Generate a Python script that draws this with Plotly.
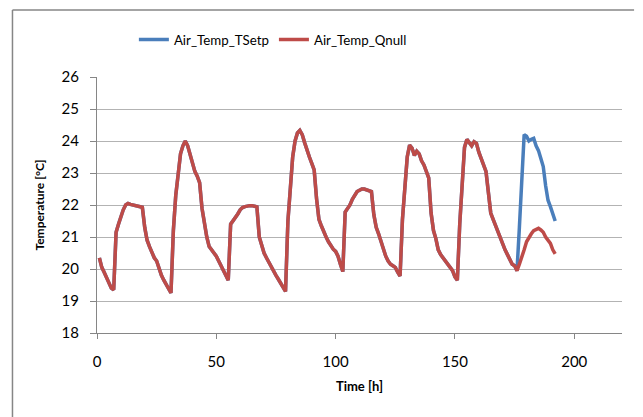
import plotly.graph_objects as go

hours = list(range(1, 193))

air_temp_qnull = [
    20.35, 20.05, 19.9, 19.75, 19.55, 19.4, 19.35, 21.15, 21.4, 21.65, 21.85, 22.0,
    22.05, 22.02, 22.0, 22.0, 21.98, 21.95, 21.93, 21.3, 20.9, 20.7, 20.5, 20.35,
    20.25, 20.0, 19.8, 19.65, 19.5, 19.35, 19.25, 21.2, 22.3, 22.95, 23.6, 23.85,
    24.0, 23.85, 23.55, 23.25, 23.05, 22.9, 22.7, 21.9, 21.4, 21.0, 20.7, 20.6,
    20.5, 20.4, 20.25, 20.1, 19.95, 19.8, 19.65, 21.4, 21.5, 21.6, 21.72, 21.85,
    21.92, 21.95, 21.97, 21.98, 21.98, 21.96, 21.94, 21.0, 20.7, 20.5, 20.35, 20.2,
    20.1, 19.95, 19.8, 19.68, 19.55, 19.4, 19.3, 21.5, 22.6, 23.5, 24.0, 24.25,
    24.33, 24.2, 23.95, 23.7, 23.5, 23.3, 23.1, 22.2, 21.55, 21.35, 21.15, 21.0,
    20.85, 20.72, 20.62, 20.55, 20.4, 20.15, 19.92, 21.78, 21.88, 22.0, 22.18, 22.32,
    22.42, 22.46, 22.5, 22.5, 22.48, 22.45, 22.42, 21.7, 21.3, 21.1, 20.85, 20.6,
    20.4, 20.25, 20.15, 20.1, 20.05, 19.9, 19.78, 21.55, 22.7, 23.5, 23.87, 23.78,
    23.55, 23.68, 23.6, 23.38, 23.25, 23.05, 22.85, 21.75, 21.2, 20.95, 20.6, 20.45,
    20.35, 20.28, 20.15, 20.05, 19.95, 19.75, 19.65, 21.4, 22.8, 23.8, 24.05, 23.95,
    23.85, 23.98, 23.93, 23.65, 23.45, 23.3, 23.05, 22.4, 21.75, 21.55, 21.35, 21.15,
    20.95, 20.75, 20.6, 20.45, 20.28, 20.15, 20.1, 19.95, 20.15, 20.35, 20.6, 20.85,
    21.0, 21.1, 21.2, 21.25, 21.27, 21.22, 21.15, 21.0, 20.9, 20.8, 20.6, 20.47,
]

tsetp_tail = [21.3, 23.0, 24.2, 24.15, 24.0, 24.05, 24.08, 23.85, 23.7, 23.45,
              23.2, 22.6, 22.15, 21.95, 21.75, 21.5]
air_temp_tsetp = air_temp_qnull[:176] + tsetp_tail

x_ticks = [0, 50, 100, 150, 200]
y_ticks = [18, 19, 20, 21, 22, 23, 24, 25, 26]

FONT = "Lato"
fig = go.Figure()
fig.add_trace(go.Scatter(x=hours, y=air_temp_tsetp, mode="lines", name="Air_Temp_TSetp",
                         line=dict(color="#4a7ebb", width=3.5)))
fig.add_trace(go.Scatter(x=hours, y=air_temp_qnull, mode="lines", name="Air_Temp_Qnull",
                         line=dict(color="#be4b48", width=3.5)))

fig.update_layout(
    width=643, height=417,
    margin=dict(l=89, r=29, t=69, b=92),
    paper_bgcolor="white", plot_bgcolor="white",
    font=dict(family=FONT, color="#000000", size=15),
    showlegend=True,
    legend=dict(orientation="h", x=0.335, xanchor="center", y=1.145, yanchor="middle",
                font=dict(size=13.3, family=FONT), itemwidth=30, bgcolor="rgba(0,0,0,0)"),
    xaxis=dict(range=[0, 220], tickvals=x_ticks, ticks="outside", ticklen=5,
               tickcolor="#868686", showline=True, linecolor="#868686", linewidth=1,
               showgrid=False, zeroline=False, tickfont=dict(size=15), ticklabelstandoff=10,
               title=dict(text="<b>Time [h]</b>", font=dict(size=13), standoff=12)),
    yaxis=dict(range=[18, 26], tickvals=y_ticks, ticks="outside", ticklen=6,
               tickcolor="#868686", showline=True, linecolor="#868686", linewidth=1,
               showgrid=True, gridcolor="#b3b3b3", gridwidth=1, zeroline=False,
               tickfont=dict(size=15), ticklabelstandoff=8,
               title=dict(text="<b>Temperature [°C]</b>", font=dict(size=12), standoff=14)),
    shapes=[
        dict(type="line", xref="paper", yref="paper", x0=-0.161, x1=1.023, y0=1.262, y1=1.262,
             line=dict(color="#868686", width=1.5)),
        dict(type="line", xref="paper", yref="paper", x0=-0.161, x1=-0.161, y0=1.262, y1=-0.33,
             line=dict(color="#868686", width=1.5)),
    ],
)

fig.write_html("out.html")
